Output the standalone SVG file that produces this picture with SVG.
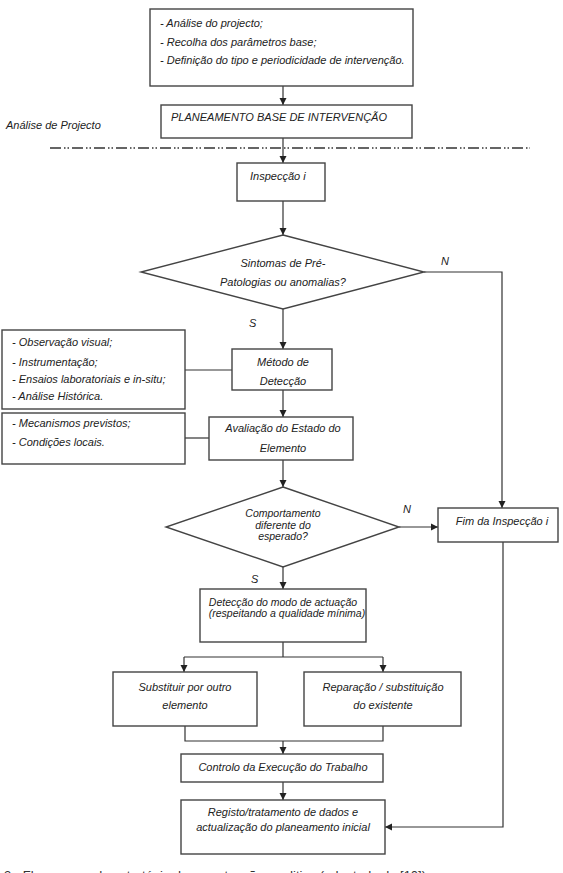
<svg xmlns="http://www.w3.org/2000/svg" width="563" height="873" viewBox="0 0 563 873">
<style>
.box{fill:#fff;stroke:#444;stroke-width:1.4}
.ln{fill:none;stroke:#333;stroke-width:1.2}
.t{font-family:"Liberation Sans",Arial,sans-serif;font-size:11px;font-style:italic;fill:#222}
.c{text-anchor:middle}
.s{font-size:10.5px}
</style>
<defs>
<marker id="arr" viewBox="0 0 8 8" refX="8" refY="4" markerWidth="7" markerHeight="8" orient="auto" markerUnits="userSpaceOnUse">
<path d="M0,0 L8,4 L0,8 z" fill="#222"/>
</marker>
</defs>
<rect width="563" height="873" fill="#fff"/>

<g id="connectors">
<path class="ln" d="M283,86 V105" marker-end="url(#arr)"/>
<path class="ln" d="M283,138 V163" marker-end="url(#arr)"/>
<path class="ln" d="M283,201 V235" marker-end="url(#arr)"/>
<path class="ln" d="M424,272 H502 V508" marker-end="url(#arr)"/>
<path class="ln" d="M283,309 V349" marker-end="url(#arr)"/>
<path class="ln" d="M185,370 H232"/>
<path class="ln" d="M283,390 V417" marker-end="url(#arr)"/>
<path class="ln" d="M185,438 H209"/>
<path class="ln" d="M283,460 V487" marker-end="url(#arr)"/>
<path class="ln" d="M399,527 H438" marker-end="url(#arr)"/>
<path class="ln" d="M283,567 V589" marker-end="url(#arr)"/>
<path class="ln" d="M283,642 V657 M184,657 H383"/>
<path class="ln" d="M184,657 V672" marker-end="url(#arr)"/>
<path class="ln" d="M383,657 V672" marker-end="url(#arr)"/>
<path class="ln" d="M185,726 V741 H383 V726"/>
<path class="ln" d="M283,741 V754" marker-end="url(#arr)"/>
<path class="ln" d="M283,782 V800" marker-end="url(#arr)"/>
<path class="ln" d="M503,542 V827 H385" marker-end="url(#arr)"/>
<text class="t" x="441" y="265">N</text>
<text class="t" x="249" y="327">S</text>
<text class="t" x="403" y="513">N</text>
<text class="t" x="251" y="583">S</text>
</g>

<g id="separator">
<path d="M50,148 H530" fill="none" stroke="#333" stroke-width="1.5" stroke-dasharray="11,3,1.5,2,1.5,3"/>
<text class="t" x="6" y="129">Análise de Projecto</text>
</g>

<g id="n-analise">
<rect class="box" x="150" y="9" width="263" height="77"/>
<text class="t" x="160" y="27">- Análise do projecto;</text>
<text class="t" x="160" y="46">- Recolha dos parâmetros base;</text>
<text class="t" x="160" y="64">- Definição do tipo e periodicidade de intervenção.</text>
</g>

<g id="n-planeamento">
<rect class="box" x="161" y="105" width="251" height="33"/>
<text class="t" x="171" y="121">PLANEAMENTO BASE DE INTERVENÇÃO</text>
</g>

<g id="n-inspeccao">
<rect class="box" x="237" y="163" width="88" height="38"/>
<text class="t" x="250" y="180">Inspecção i</text>
</g>

<g id="n-sintomas">
<polygon class="box" points="283,235 424,272 283,309 141,272"/>
<text class="t c" x="283" y="267">Sintomas de Pré-</text>
<text class="t c" x="283" y="286">Patologias ou anomalias?</text>
</g>

<g id="n-lista-metodos">
<rect class="box" x="2" y="330" width="183" height="79"/>
<text class="t" x="12" y="346">- Observação visual;</text>
<text class="t" x="12" y="366">- Instrumentação;</text>
<text class="t" x="12" y="383">- Ensaios laboratoriais e  in-situ;</text>
<text class="t" x="12" y="400">- Análise Histórica.</text>
</g>

<g id="n-metodo">
<rect class="box" x="232" y="349" width="100" height="41"/>
<text class="t c" x="283" y="366">Método de</text>
<text class="t c" x="283" y="385">Detecção</text>
</g>

<g id="n-lista-mecanismos">
<rect class="box" x="2" y="413" width="183" height="51"/>
<text class="t" x="12" y="427">- Mecanismos previstos;</text>
<text class="t" x="12" y="446">- Condições locais.</text>
</g>

<g id="n-avaliacao">
<rect class="box" x="209" y="417" width="144" height="43"/>
<text class="t c" x="283" y="432">Avaliação do Estado do</text>
<text class="t c" x="283" y="452">Elemento</text>
</g>

<g id="n-comportamento">
<polygon class="box" points="283,487 399,527 283,567 166,527"/>
<text class="t c s" x="283" y="517">Comportamento</text>
<text class="t c s" x="283" y="529">diferente do</text>
<text class="t c s" x="283" y="540">esperado?</text>
</g>

<g id="n-fim">
<rect class="box" x="438" y="508" width="120" height="34"/>
<text class="t c" x="502" y="525">Fim da Inspecção i</text>
</g>

<g id="n-deteccao-modo">
<rect class="box" x="200" y="589" width="166" height="53"/>
<text class="t c s" x="283" y="606">Detecção do modo de actuação</text>
<text class="t c s" x="287" y="617">(respeitando a qualidade mínima)</text>
</g>

<g id="n-substituir">
<rect class="box" x="113" y="672" width="144" height="54"/>
<text class="t c" x="185" y="691">Substituir por outro</text>
<text class="t c" x="185" y="709">elemento</text>
</g>

<g id="n-reparacao">
<rect class="box" x="304" y="672" width="157" height="54"/>
<text class="t c" x="383" y="691">Reparação / substituição</text>
<text class="t c" x="383" y="709">do existente</text>
</g>

<g id="n-controlo">
<rect class="box" x="181" y="754" width="202" height="28"/>
<text class="t c" x="283" y="771">Controlo da Execução do Trabalho</text>
</g>

<g id="n-registo">
<rect class="box" x="181" y="800" width="204" height="54"/>
<text class="t c" x="283" y="816">Registo/tratamento de dados e</text>
<text class="t c" x="283" y="831">actualização do planeamento inicial</text>
</g>

<g id="caption">
<text x="4" y="880" font-family="'Liberation Sans',Arial,sans-serif" font-size="13" fill="#333">3 - Fluxograma da estratégia de manutenção preditiva (adaptado de [10])</text>
</g>
</svg>
